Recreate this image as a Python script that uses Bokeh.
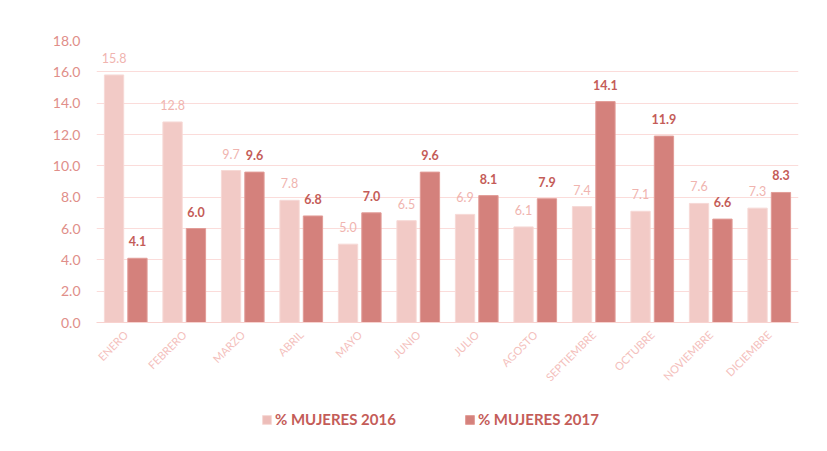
from bokeh.plotting import figure
from bokeh.layouts import column
from bokeh.models import ColumnDataSource, Legend, LegendItem, FixedTicker, NumeralTickFormatter, Range1d
from bokeh.transform import dodge
from bokeh.core.properties import value
from bokeh.embed import file_html
from bokeh.resources import INLINE

months = ["ENERO", "FEBRERO", "MARZO", "ABRIL", "MAYO", "JUNIO", "JULIO",
          "AGOSTO", "SEPTIEMBRE", "OCTUBRE", "NOVIEMBRE", "DICIEMBRE"]
mujeres_2016 = [15.8, 12.8, 9.7, 7.8, 5.0, 6.5, 6.9, 6.1, 7.4, 7.1, 7.6, 7.3]
mujeres_2017 = [4.1, 6.0, 9.6, 6.8, 7.0, 9.6, 8.1, 7.9, 14.1, 11.9, 6.6, 8.3]
series_names = ["% MUJERES 2016", "% MUJERES 2017"]
y_ticks = [0, 2, 4, 6, 8, 10, 12, 14, 16, 18]

C16 = "#F2CAC6"
C17 = "#D4817C"
L16 = "#F6D9D6"
L17 = "#E29C97"
FONT = "Lato"

src = ColumnDataSource(dict(
    month=months,
    v16=mujeres_2016,
    v17=mujeres_2017,
    t16=["%.1f" % v for v in mujeres_2016],
    t17=["%.1f" % v for v in mujeres_2017],
))

p = figure(x_range=months, y_range=Range1d(0, 18), width=811, height=400,
           output_backend="svg", toolbar_location=None,
           min_border_left=96, min_border_right=13, min_border_top=40, min_border_bottom=78)

r16 = p.vbar(x=dodge("month", -0.2, range=p.x_range), top="v16", width=0.33, source=src,
             fill_color=C16, line_color=L16, line_width=1)
r17 = p.vbar(x=dodge("month", 0.2, range=p.x_range), top="v17", width=0.33, source=src,
             fill_color=C17, line_color=L17, line_width=1)

p.text(x=dodge("month", -0.2, range=p.x_range), y="v16", text="t16", source=src,
       text_align="center", text_baseline="bottom", y_offset=-12,
       text_font=value(FONT), text_font_size="12.5px", text_color="#F0B4AF")
p.text(x=dodge("month", 0.2, range=p.x_range), y="v17", text="t17", source=src,
       text_align="center", text_baseline="bottom", y_offset=-12,
       text_font=value(FONT), text_font_size="12.5px", text_font_style="bold", text_color="#C45C58")

p.yaxis.ticker = FixedTicker(ticks=y_ticks)
p.yaxis.formatter = NumeralTickFormatter(format="0.0")
p.yaxis.axis_line_color = None
p.yaxis.major_tick_line_color = None
p.yaxis.minor_tick_line_color = None
p.yaxis.major_label_text_font = FONT
p.yaxis.major_label_text_font_size = "14px"
p.yaxis.major_label_text_color = "#E08E89"
p.yaxis.major_label_standoff = 10

p.xaxis.axis_line_color = "#F8D2CF"
p.xaxis.major_tick_line_color = None
p.xaxis.minor_tick_line_color = None
p.xaxis.major_label_orientation = 0.785
p.xaxis.major_label_text_font = FONT
p.xaxis.major_label_text_font_size = "11px"
p.xaxis.major_label_text_color = "#F4C0BC"
p.xaxis.major_label_standoff = 4

p.xgrid.grid_line_color = None
p.ygrid.grid_line_color = "#FBDCDA"
p.ygrid.ticker = FixedTicker(ticks=y_ticks)
p.outline_line_color = None
p.x_range.range_padding = 0

# legend strip below the chart
lg = figure(width=811, height=40, output_backend="svg", toolbar_location=None,
            x_range=Range1d(0, 1), y_range=Range1d(0, 1),
            x_axis_location=None, y_axis_location=None,
            min_border=0, min_border_left=0, min_border_right=0,
            min_border_top=0, min_border_bottom=0)
lg.grid.visible = False
lg.outline_line_color = None
hidden = ColumnDataSource(dict(x=[-5], top=[0]))
g16 = lg.vbar(x="x", top="top", width=0.1, source=hidden, fill_color="#EDBDB9", line_color=L16)
g17 = lg.vbar(x="x", top="top", width=0.1, source=hidden, fill_color=C17, line_color=L17)

legend = Legend(items=[LegendItem(label=series_names[0], renderers=[g16]),
                       LegendItem(label=series_names[1], renderers=[g17])],
                orientation="horizontal", location=(165, 12),
                label_text_font=FONT, label_text_font_size="15px", label_text_font_style="bold",
                label_text_color="#C45C58", glyph_width=11, glyph_height=11,
                spacing=68, label_standoff=3, border_line_color=None,
                background_fill_alpha=0, margin=0, padding=6)
lg.add_layout(legend, "center")

layout = column(p, lg, spacing=0)
open("out.html", "w").write(file_html(layout, INLINE))
